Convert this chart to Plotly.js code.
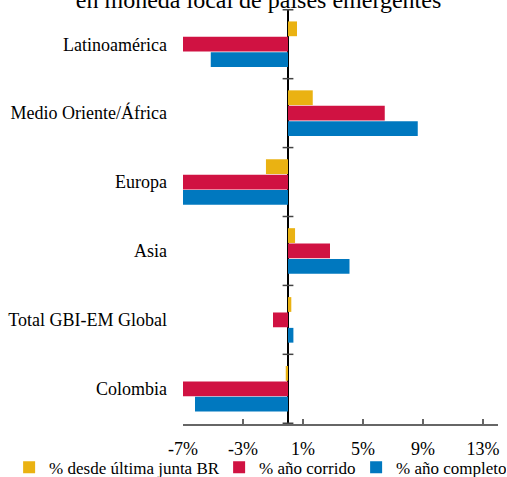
<!DOCTYPE html>
<html>
<head>
<meta charset="utf-8">
<script src="https://cdn.plot.ly/plotly-3.0.1.min.js"></script>
<style>html,body{margin:0;padding:0;background:#fff;}#chart{width:507px;height:477px;}</style>
</head>
<body>
<div id="chart"></div>
<script>
const categories = ['Latinoamérica', 'Medio Oriente/África', 'Europa', 'Asia', 'Total GBI-EM Global', 'Colombia'];
const seriesNames = ['% desde última junta BR', '% año corrido', '% año completo'];
const desdeJunta = [0.6, 1.65, -1.47, 0.47, 0.22, -0.15];
const anoCorrido = [-7.0, 6.45, -7.0, 2.8, -1.0, -7.0];
const anoCompleto = [-5.15, 8.65, -7.0, 4.1, 0.36, -6.2];
const xTickVals = [-7, -3, 1, 5, 9, 13];
const xTickText = ['-7%', '-3%', '1%', '5%', '9%', '13%'];
const titleText = 'en moneda local de países emergentes';

const colors = ['#EAB212', '#D01242', '#0078BF'];
const legendWidths = [165, 92, 105];
const seriesValues = [desdeJunta, anoCorrido, anoCompleto];
const FONT = '"Liberation Serif", "Times New Roman", serif';

const traces = seriesValues.map((vals, i) => ({
  type: 'bar',
  orientation: 'h',
  name: seriesNames[i],
  y: categories,
  x: vals,
  legendwidth: legendWidths[i],
  marker: {color: colors[i], line: {width: 0}},
  hoverinfo: 'x+y'
}));

// cross ticks on the zero axis at category boundaries
const shapes = [];
for (let i = 0; i <= categories.length; i++) {
  shapes.push({
    type: 'line', xref: 'x', yref: 'y',
    x0: -0.36, x1: 0.36, y0: i - 0.5, y1: i - 0.5,
    line: {color: '#444', width: 1.5}
  });
}

const layout = {
  width: 507, height: 477,
  margin: {l: 183, r: 9, t: 9, b: 53, autoexpand: false},
  paper_bgcolor: '#fff', plot_bgcolor: '#fff',
  font: {family: FONT, size: 18, color: '#000'},
  title: {
    text: titleText,
    font: {family: FONT, size: 24, color: '#000'},
    xref: 'container', x: 0.51, xanchor: 'center',
    yref: 'container', y: 1.0, yanchor: 'middle'
  },
  barmode: 'group',
  bargap: 0.33,
  bargroupgap: 0.04,
  showlegend: true,
  legend: {
    orientation: 'h',
    x: -0.552, xanchor: 'left',
    y: -0.062, yanchor: 'top',
    bgcolor: 'rgba(0,0,0,0)',
    font: {family: FONT, size: 17, color: '#000'},
    traceorder: 'normal',
    itemwidth: 30,
    tracegroupgap: 0
  },
  xaxis: {
    range: [-7, 14],
    tickmode: 'array', tickvals: xTickVals, ticktext: xTickText,
    showgrid: false,
    zeroline: true, zerolinecolor: '#000', zerolinewidth: 1.5,
    showline: true, linecolor: '#666', linewidth: 1.5,
    ticks: 'inside', ticklen: 5, tickcolor: '#666', tickwidth: 1.5,
    ticklabelstandoff: 8,
    fixedrange: true
  },
  yaxis: {
    type: 'category',
    autorange: 'reversed',
    showgrid: false, zeroline: false, showline: false,
    ticks: '',
    ticklabelstandoff: 15,
    fixedrange: true
  },
  shapes: shapes
};

Plotly.newPlot('chart', traces, layout, {displayModeBar: false, staticPlot: true});
</script>
</body>
</html>
